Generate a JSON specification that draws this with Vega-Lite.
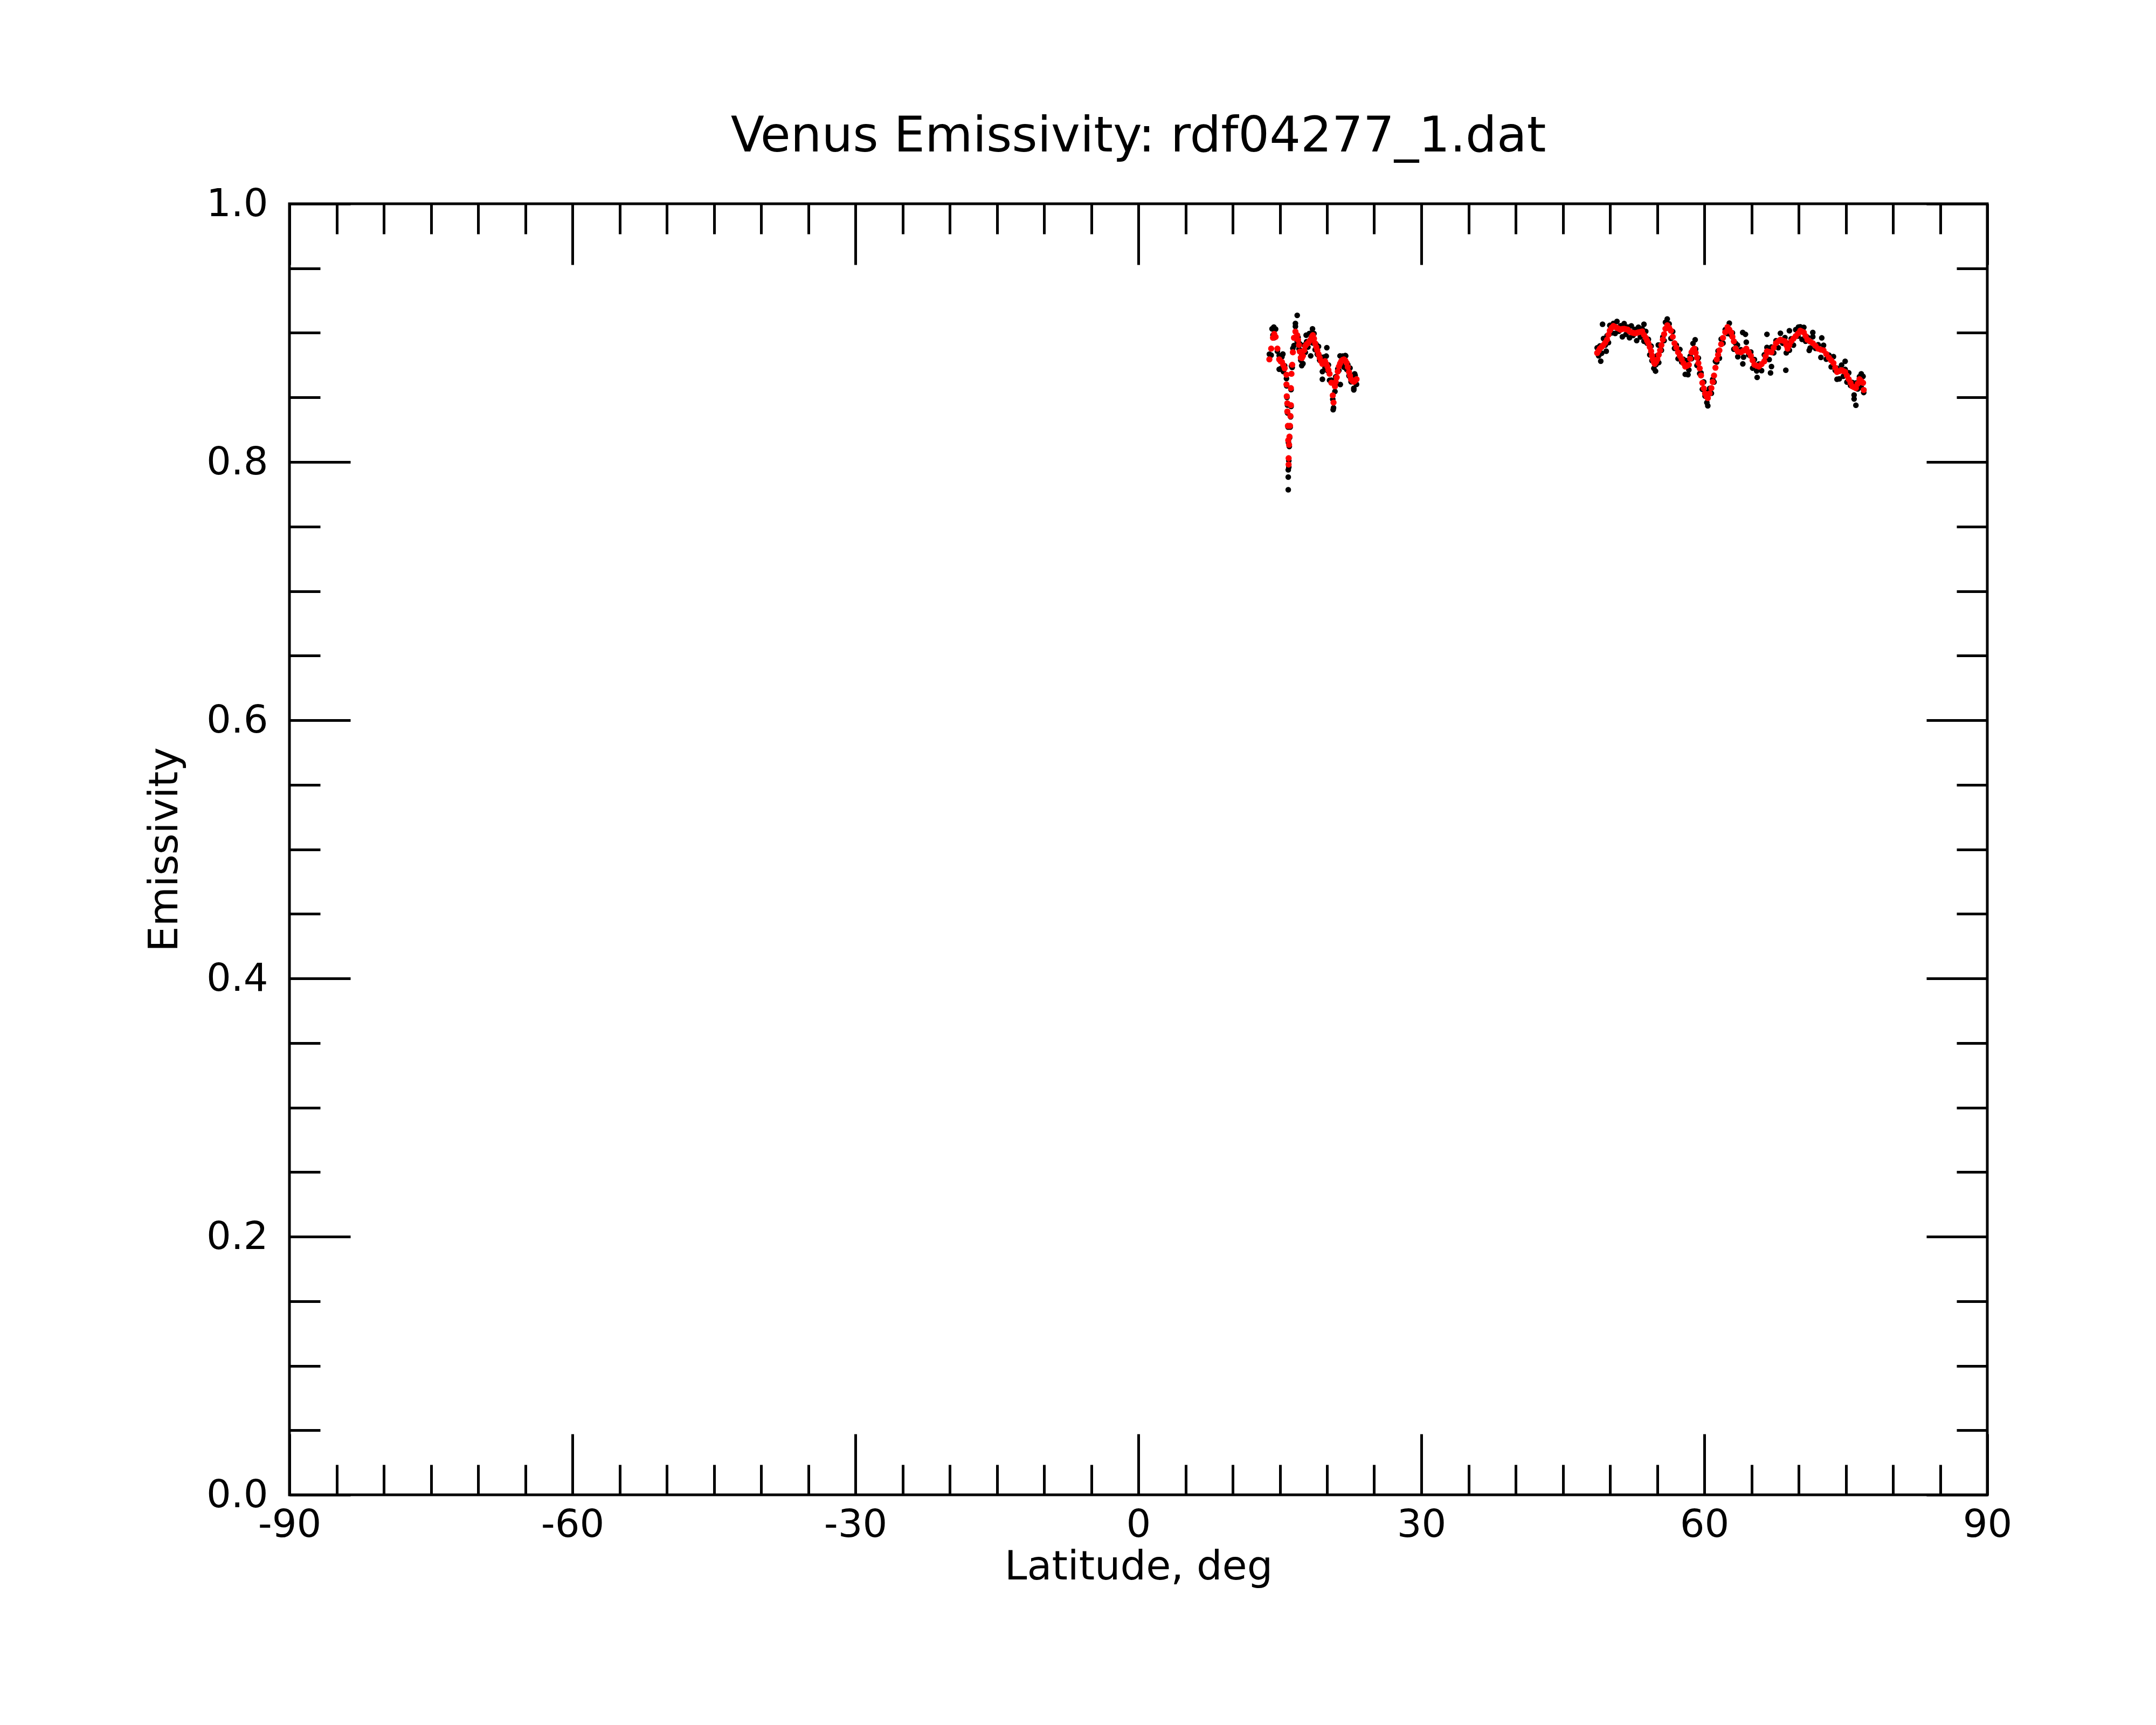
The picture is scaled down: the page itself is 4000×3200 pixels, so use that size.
{
  "$schema": "https://vega.github.io/schema/vega-lite/v6.json",
  "width": 3150,
  "height": 2395,
  "autosize": {"type": "none"},
  "padding": {"left": 537, "top": 378, "right": 313, "bottom": 427},
  "background": "white",
  "title": {
    "text": "Venus Emissivity: rdf04277_1.dat",
    "font": "DejaVu Sans",
    "fontSize": 91,
    "fontWeight": "normal",
    "color": "black",
    "anchor": "middle",
    "frame": "group",
    "baseline": "alphabetic",
    "offset": -30
  },
  "config": {
    "view": {"stroke": "black", "strokeWidth": 5},
    "axis": {
      "grid": false,
      "domain": false,
      "tickColor": "black",
      "tickWidth": 5,
      "labelFont": "DejaVu Sans",
      "labelFontSize": 72,
      "labelColor": "black",
      "labelFlush": false,
      "labelOverlap": false,
      "titleFont": "DejaVu Sans",
      "titleFontSize": 75,
      "titleFontWeight": "normal",
      "titleColor": "black"
    }
  },
  "datasets": {
    "raw": [
      {"lat":13.89,"emis":0.8835},{"lat":14.08,"emis":0.8828},{"lat":14.27,"emis":0.8982},{"lat":14.40,"emis":0.8962},
      {"lat":14.55,"emis":0.9029},{"lat":14.74,"emis":0.8858},{"lat":14.93,"emis":0.8825},{"lat":15.08,"emis":0.8720},
      {"lat":15.22,"emis":0.8814},{"lat":15.37,"emis":0.8700},{"lat":15.51,"emis":0.8745},{"lat":15.70,"emis":0.8646},
      {"lat":15.72,"emis":0.8590},{"lat":15.75,"emis":0.8500},{"lat":15.81,"emis":0.8440},{"lat":15.81,"emis":0.8380},
      {"lat":15.87,"emis":0.8270},{"lat":15.91,"emis":0.8150},{"lat":15.95,"emis":0.8010},{"lat":15.95,"emis":0.7960},
      {"lat":16.00,"emis":0.8120},{"lat":16.04,"emis":0.8190},{"lat":16.10,"emis":0.8270},{"lat":16.14,"emis":0.8350},
      {"lat":16.19,"emis":0.8430},{"lat":16.19,"emis":0.8560},{"lat":16.23,"emis":0.8743},{"lat":16.31,"emis":0.8733},
      {"lat":16.38,"emis":0.8880},{"lat":16.50,"emis":0.8902},{"lat":16.65,"emis":0.9050},{"lat":16.84,"emis":0.8932},
      {"lat":16.93,"emis":0.8965},{"lat":17.03,"emis":0.8876},{"lat":17.12,"emis":0.8915},{"lat":17.22,"emis":0.8788},
      {"lat":17.33,"emis":0.8835},{"lat":17.45,"emis":0.8762},{"lat":17.58,"emis":0.8905},{"lat":17.70,"emis":0.8849},
      {"lat":17.84,"emis":0.8932},{"lat":17.98,"emis":0.8890},{"lat":18.12,"emis":0.8995},{"lat":18.27,"emis":0.8928},
      {"lat":18.38,"emis":0.9000},{"lat":18.50,"emis":0.8922},{"lat":18.62,"emis":0.8995},{"lat":18.74,"emis":0.8870},
      {"lat":18.86,"emis":0.8910},{"lat":18.97,"emis":0.8834},{"lat":19.10,"emis":0.8895},{"lat":19.22,"emis":0.8788},
      {"lat":19.36,"emis":0.8812},{"lat":19.51,"emis":0.8700},{"lat":19.65,"emis":0.8812},{"lat":19.79,"emis":0.8731},
      {"lat":19.92,"emis":0.8820},{"lat":20.04,"emis":0.8709},{"lat":20.15,"emis":0.8752},{"lat":20.27,"emis":0.8633},
      {"lat":20.46,"emis":0.8634},{"lat":20.61,"emis":0.8486},{"lat":20.69,"emis":0.8420},{"lat":20.84,"emis":0.8546},
      {"lat":20.92,"emis":0.8660},{"lat":21.03,"emis":0.8605},{"lat":21.14,"emis":0.8720},{"lat":21.26,"emis":0.8709},
      {"lat":21.38,"emis":0.8822},{"lat":21.51,"emis":0.8761},{"lat":21.65,"emis":0.8820},{"lat":21.79,"emis":0.8735},
      {"lat":21.94,"emis":0.8825},{"lat":22.08,"emis":0.8717},{"lat":22.20,"emis":0.8755},{"lat":22.33,"emis":0.8667},
      {"lat":22.44,"emis":0.8728},{"lat":22.55,"emis":0.8621},{"lat":22.70,"emis":0.8658},{"lat":22.84,"emis":0.8571},
      {"lat":22.98,"emis":0.8670},{"lat":23.13,"emis":0.8601},
      {"lat":14.36,"emis":0.9045},{"lat":16.84,"emis":0.9136},{"lat":16.65,"emis":0.9073},{"lat":17.32,"emis":0.8746},
      {"lat":17.79,"emis":0.8982},{"lat":18.46,"emis":0.9031},{"lat":18.27,"emis":0.8822},{"lat":19.51,"emis":0.8641},
      {"lat":19.98,"emis":0.8885},{"lat":20.65,"emis":0.8405},{"lat":21.41,"emis":0.8600},{"lat":21.98,"emis":0.8822},
      {"lat":22.84,"emis":0.8558},{"lat":22.93,"emis":0.8683},{"lat":15.89,"emis":0.7939},{"lat":15.89,"emis":0.7883},
      {"lat":15.89,"emis":0.7785},{"lat":15.13,"emis":0.8725},{"lat":14.17,"emis":0.9031},{"lat":15.32,"emis":0.8836},
      {"lat":14.93,"emis":0.8718},
      {"lat":48.64,"emis":0.8884},{"lat":48.80,"emis":0.8822},{"lat":48.93,"emis":0.8899},{"lat":49.12,"emis":0.8842},
      {"lat":49.31,"emis":0.8956},{"lat":49.50,"emis":0.8905},{"lat":49.69,"emis":0.8978},{"lat":49.84,"emis":0.8925},
      {"lat":49.98,"emis":0.9058},{"lat":50.17,"emis":0.9000},{"lat":50.36,"emis":0.9073},{"lat":50.55,"emis":0.8996},
      {"lat":50.74,"emis":0.9089},{"lat":50.93,"emis":0.9012},{"lat":51.12,"emis":0.9055},{"lat":51.31,"emis":0.8970},
      {"lat":51.50,"emis":0.9072},{"lat":51.69,"emis":0.8988},{"lat":51.88,"emis":0.9045},{"lat":52.07,"emis":0.8962},
      {"lat":52.26,"emis":0.9054},{"lat":52.45,"emis":0.8980},{"lat":52.64,"emis":0.9027},{"lat":52.83,"emis":0.8940},
      {"lat":53.02,"emis":0.9044},{"lat":53.22,"emis":0.8968},{"lat":53.41,"emis":0.9031},{"lat":53.60,"emis":0.8935},
      {"lat":53.79,"emis":0.9012},{"lat":53.93,"emis":0.8920},{"lat":54.07,"emis":0.8950},{"lat":54.22,"emis":0.8830},
      {"lat":54.36,"emis":0.8898},{"lat":54.45,"emis":0.8785},{"lat":54.55,"emis":0.8815},{"lat":54.65,"emis":0.8725},
      {"lat":54.74,"emis":0.8810},{"lat":54.88,"emis":0.8755},{"lat":55.02,"emis":0.8825},{"lat":55.17,"emis":0.8770},
      {"lat":55.31,"emis":0.8905},{"lat":55.45,"emis":0.8865},{"lat":55.60,"emis":0.8968},{"lat":55.74,"emis":0.8940},
      {"lat":55.88,"emis":0.9082},{"lat":56.08,"emis":0.9039},{"lat":56.27,"emis":0.9070},{"lat":56.46,"emis":0.8957},
      {"lat":56.65,"emis":0.9010},{"lat":56.84,"emis":0.8880},{"lat":57.03,"emis":0.8905},{"lat":57.22,"emis":0.8800},
      {"lat":57.41,"emis":0.8872},{"lat":57.60,"emis":0.8774},{"lat":57.79,"emis":0.8795},{"lat":57.98,"emis":0.8679},
      {"lat":58.17,"emis":0.8785},{"lat":58.36,"emis":0.8713},{"lat":58.50,"emis":0.8820},{"lat":58.65,"emis":0.8800},
      {"lat":58.80,"emis":0.8918},{"lat":58.94,"emis":0.8858},{"lat":59.08,"emis":0.8875},{"lat":59.22,"emis":0.8748},
      {"lat":59.37,"emis":0.8805},{"lat":59.51,"emis":0.8685},{"lat":59.65,"emis":0.8690},{"lat":59.79,"emis":0.8563},
      {"lat":59.94,"emis":0.8620},{"lat":60.08,"emis":0.8510},{"lat":60.22,"emis":0.8540},{"lat":60.37,"emis":0.8435},
      {"lat":60.56,"emis":0.8570},{"lat":60.75,"emis":0.8532},{"lat":60.89,"emis":0.8640},{"lat":61.03,"emis":0.8619},
      {"lat":61.18,"emis":0.8780},{"lat":61.32,"emis":0.8774},{"lat":61.46,"emis":0.8860},{"lat":61.60,"emis":0.8804},
      {"lat":61.79,"emis":0.8952},{"lat":61.98,"emis":0.8921},{"lat":62.22,"emis":0.9025},{"lat":62.46,"emis":0.8995},
      {"lat":62.65,"emis":0.9075},{"lat":62.84,"emis":0.8983},{"lat":62.98,"emis":0.9000},{"lat":63.13,"emis":0.8874},
      {"lat":63.31,"emis":0.8920},{"lat":63.55,"emis":0.8815},{"lat":63.88,"emis":0.8870},{"lat":64.16,"emis":0.8812},
      {"lat":64.45,"emis":0.8928},{"lat":64.70,"emis":0.8830},{"lat":64.93,"emis":0.8852},{"lat":65.12,"emis":0.8727},
      {"lat":65.31,"emis":0.8793},{"lat":65.55,"emis":0.8705},{"lat":65.79,"emis":0.8759},{"lat":66.07,"emis":0.8708},
      {"lat":66.36,"emis":0.8830},{"lat":66.50,"emis":0.8800},{"lat":66.64,"emis":0.8887},{"lat":66.88,"emis":0.8793},
      {"lat":67.12,"emis":0.8890},{"lat":67.36,"emis":0.8845},{"lat":67.60,"emis":0.8940},{"lat":67.84,"emis":0.8885},
      {"lat":68.07,"emis":0.8997},{"lat":68.31,"emis":0.8920},{"lat":68.55,"emis":0.8964},{"lat":68.69,"emis":0.8845},
      {"lat":68.83,"emis":0.8918},{"lat":69.02,"emis":0.8865},{"lat":69.21,"emis":0.8954},{"lat":69.45,"emis":0.8905},
      {"lat":69.69,"emis":0.9025},{"lat":69.93,"emis":0.8975},{"lat":70.17,"emis":0.9047},{"lat":70.36,"emis":0.8950},
      {"lat":70.55,"emis":0.9043},{"lat":70.74,"emis":0.8935},{"lat":70.93,"emis":0.8967},{"lat":71.22,"emis":0.8883},
      {"lat":71.50,"emis":0.8970},{"lat":71.79,"emis":0.8880},{"lat":72.07,"emis":0.8908},{"lat":72.36,"emis":0.8810},
      {"lat":72.64,"emis":0.8904},{"lat":72.93,"emis":0.8796},{"lat":73.21,"emis":0.8828},{"lat":73.45,"emis":0.8737},
      {"lat":73.69,"emis":0.8816},{"lat":73.88,"emis":0.8710},{"lat":74.07,"emis":0.8727},{"lat":74.31,"emis":0.8644},
      {"lat":74.55,"emis":0.8751},{"lat":74.74,"emis":0.8664},{"lat":74.93,"emis":0.8717},{"lat":75.12,"emis":0.8619},
      {"lat":75.31,"emis":0.8691},{"lat":75.50,"emis":0.8593},{"lat":75.69,"emis":0.8616},{"lat":75.88,"emis":0.8519},
      {"lat":76.07,"emis":0.8612},{"lat":76.26,"emis":0.8566},{"lat":76.45,"emis":0.8661},{"lat":76.64,"emis":0.8577},
      {"lat":76.83,"emis":0.8663},{"lat":76.90,"emis":0.8538},
      {"lat":49.21,"emis":0.9067},{"lat":49.02,"emis":0.8781},{"lat":49.60,"emis":0.8858},{"lat":53.60,"emis":0.9067},
      {"lat":55.12,"emis":0.8906},{"lat":54.83,"emis":0.8704},{"lat":56.07,"emis":0.9108},{"lat":58.27,"emis":0.8676},
      {"lat":59.03,"emis":0.8947},{"lat":60.27,"emis":0.8460},{"lat":63.51,"emis":0.8906},{"lat":64.08,"emis":0.8760},
      {"lat":64.36,"emis":0.8989},{"lat":64.07,"emis":0.9003},{"lat":65.60,"emis":0.8655},{"lat":66.64,"emis":0.8989},
      {"lat":67.12,"emis":0.8739},{"lat":67.02,"emis":0.8690},{"lat":68.64,"emis":0.8711},{"lat":69.02,"emis":0.9017},
      {"lat":69.98,"emis":0.9045},{"lat":71.50,"emis":0.9003},{"lat":72.45,"emis":0.8961},{"lat":71.12,"emis":0.8864},
      {"lat":74.07,"emis":0.8641},{"lat":74.93,"emis":0.8780},{"lat":75.88,"emis":0.8488},{"lat":76.07,"emis":0.8439},
      {"lat":76.64,"emis":0.8683}
    ],
    "smooth": [
      {"lat":13.89,"emis":0.8795},{"lat":14.08,"emis":0.8878},{"lat":14.27,"emis":0.8962},{"lat":14.40,"emis":0.8992},
      {"lat":14.55,"emis":0.8969},{"lat":14.74,"emis":0.8878},{"lat":14.93,"emis":0.8795},{"lat":15.08,"emis":0.8780},
      {"lat":15.22,"emis":0.8774},{"lat":15.37,"emis":0.8750},{"lat":15.51,"emis":0.8725},{"lat":15.70,"emis":0.8676},
      {"lat":15.70,"emis":0.8600},{"lat":15.73,"emis":0.8509},{"lat":15.79,"emis":0.8454},{"lat":15.79,"emis":0.8391},
      {"lat":15.85,"emis":0.8280},{"lat":15.89,"emis":0.8168},{"lat":15.93,"emis":0.8029},{"lat":15.93,"emis":0.7980},
      {"lat":15.98,"emis":0.8133},{"lat":16.02,"emis":0.8196},{"lat":16.08,"emis":0.8280},{"lat":16.12,"emis":0.8356},
      {"lat":16.17,"emis":0.8440},{"lat":16.17,"emis":0.8572},{"lat":16.23,"emis":0.8683},{"lat":16.31,"emis":0.8753},
      {"lat":16.38,"emis":0.8850},{"lat":16.50,"emis":0.8962},{"lat":16.65,"emis":0.9010},{"lat":16.84,"emis":0.8982},
      {"lat":16.93,"emis":0.8945},{"lat":17.03,"emis":0.8906},{"lat":17.12,"emis":0.8855},{"lat":17.22,"emis":0.8808},
      {"lat":17.33,"emis":0.8805},{"lat":17.45,"emis":0.8822},{"lat":17.58,"emis":0.8865},{"lat":17.70,"emis":0.8899},
      {"lat":17.84,"emis":0.8912},{"lat":17.98,"emis":0.8920},{"lat":18.12,"emis":0.8935},{"lat":18.27,"emis":0.8948},
      {"lat":18.38,"emis":0.8970},{"lat":18.50,"emis":0.8982},{"lat":18.62,"emis":0.8955},{"lat":18.74,"emis":0.8920},
      {"lat":18.86,"emis":0.8890},{"lat":18.97,"emis":0.8864},{"lat":19.10,"emis":0.8835},{"lat":19.22,"emis":0.8808},
      {"lat":19.36,"emis":0.8782},{"lat":19.51,"emis":0.8760},{"lat":19.65,"emis":0.8772},{"lat":19.79,"emis":0.8781},
      {"lat":19.92,"emis":0.8760},{"lat":20.04,"emis":0.8739},{"lat":20.15,"emis":0.8712},{"lat":20.27,"emis":0.8683},
      {"lat":20.46,"emis":0.8614},{"lat":20.61,"emis":0.8516},{"lat":20.69,"emis":0.8460},{"lat":20.84,"emis":0.8586},
      {"lat":20.92,"emis":0.8620},{"lat":21.03,"emis":0.8655},{"lat":21.14,"emis":0.8700},{"lat":21.26,"emis":0.8739},
      {"lat":21.38,"emis":0.8762},{"lat":21.51,"emis":0.8781},{"lat":21.65,"emis":0.8790},{"lat":21.79,"emis":0.8795},
      {"lat":21.94,"emis":0.8785},{"lat":22.08,"emis":0.8767},{"lat":22.20,"emis":0.8735},{"lat":22.33,"emis":0.8697},
      {"lat":22.44,"emis":0.8668},{"lat":22.55,"emis":0.8641},{"lat":22.70,"emis":0.8628},{"lat":22.84,"emis":0.8621},
      {"lat":22.98,"emis":0.8630},{"lat":23.13,"emis":0.8641},
      {"lat":48.64,"emis":0.8844},{"lat":48.80,"emis":0.8862},{"lat":48.93,"emis":0.8879},{"lat":49.12,"emis":0.8892},
      {"lat":49.31,"emis":0.8906},{"lat":49.50,"emis":0.8925},{"lat":49.69,"emis":0.8948},{"lat":49.84,"emis":0.8985},
      {"lat":49.98,"emis":0.9018},{"lat":50.17,"emis":0.9040},{"lat":50.36,"emis":0.9053},{"lat":50.55,"emis":0.9046},
      {"lat":50.74,"emis":0.9039},{"lat":50.93,"emis":0.9032},{"lat":51.12,"emis":0.9025},{"lat":51.31,"emis":0.9030},
      {"lat":51.50,"emis":0.9032},{"lat":51.69,"emis":0.9028},{"lat":51.88,"emis":0.9025},{"lat":52.07,"emis":0.9012},
      {"lat":52.26,"emis":0.9004},{"lat":52.45,"emis":0.9000},{"lat":52.64,"emis":0.8997},{"lat":52.83,"emis":0.9000},
      {"lat":53.02,"emis":0.9004},{"lat":53.22,"emis":0.9008},{"lat":53.41,"emis":0.9011},{"lat":53.60,"emis":0.8985},
      {"lat":53.79,"emis":0.8962},{"lat":53.93,"emis":0.8940},{"lat":54.07,"emis":0.8920},{"lat":54.22,"emis":0.8890},
      {"lat":54.36,"emis":0.8858},{"lat":54.45,"emis":0.8825},{"lat":54.55,"emis":0.8795},{"lat":54.65,"emis":0.8775},
      {"lat":54.74,"emis":0.8760},{"lat":54.88,"emis":0.8775},{"lat":55.02,"emis":0.8795},{"lat":55.17,"emis":0.8830},
      {"lat":55.31,"emis":0.8865},{"lat":55.45,"emis":0.8905},{"lat":55.60,"emis":0.8948},{"lat":55.74,"emis":0.8990},
      {"lat":55.88,"emis":0.9032},{"lat":56.08,"emis":0.9059},{"lat":56.27,"emis":0.9040},{"lat":56.46,"emis":0.9017},
      {"lat":56.65,"emis":0.8970},{"lat":56.84,"emis":0.8920},{"lat":57.03,"emis":0.8885},{"lat":57.22,"emis":0.8850},
      {"lat":57.41,"emis":0.8822},{"lat":57.60,"emis":0.8794},{"lat":57.79,"emis":0.8765},{"lat":57.98,"emis":0.8739},
      {"lat":58.17,"emis":0.8745},{"lat":58.36,"emis":0.8753},{"lat":58.50,"emis":0.8800},{"lat":58.65,"emis":0.8850},
      {"lat":58.80,"emis":0.8868},{"lat":58.94,"emis":0.8878},{"lat":59.08,"emis":0.8845},{"lat":59.22,"emis":0.8808},
      {"lat":59.37,"emis":0.8765},{"lat":59.51,"emis":0.8725},{"lat":59.65,"emis":0.8670},{"lat":59.79,"emis":0.8613},
      {"lat":59.94,"emis":0.8570},{"lat":60.08,"emis":0.8530},{"lat":60.22,"emis":0.8510},{"lat":60.37,"emis":0.8495},
      {"lat":60.56,"emis":0.8530},{"lat":60.75,"emis":0.8572},{"lat":60.89,"emis":0.8620},{"lat":61.03,"emis":0.8669},
      {"lat":61.18,"emis":0.8730},{"lat":61.32,"emis":0.8794},{"lat":61.46,"emis":0.8830},{"lat":61.60,"emis":0.8864},
      {"lat":61.79,"emis":0.8912},{"lat":61.98,"emis":0.8961},{"lat":62.22,"emis":0.9005},{"lat":62.46,"emis":0.9045},
      {"lat":62.65,"emis":0.9025},{"lat":62.84,"emis":0.9003},{"lat":62.98,"emis":0.8970},{"lat":63.13,"emis":0.8934},
      {"lat":63.31,"emis":0.8880},{"lat":63.55,"emis":0.8855},{"lat":63.88,"emis":0.8850},{"lat":64.16,"emis":0.8862},
      {"lat":64.45,"emis":0.8878},{"lat":64.70,"emis":0.8850},{"lat":64.93,"emis":0.8822},{"lat":65.12,"emis":0.8787},
      {"lat":65.31,"emis":0.8753},{"lat":65.55,"emis":0.8745},{"lat":65.79,"emis":0.8739},{"lat":66.07,"emis":0.8758},
      {"lat":66.36,"emis":0.8780},{"lat":66.50,"emis":0.8820},{"lat":66.64,"emis":0.8857},{"lat":66.88,"emis":0.8853},
      {"lat":67.12,"emis":0.8850},{"lat":67.36,"emis":0.8885},{"lat":67.60,"emis":0.8920},{"lat":67.84,"emis":0.8935},
      {"lat":68.07,"emis":0.8947},{"lat":68.31,"emis":0.8940},{"lat":68.55,"emis":0.8934},{"lat":68.69,"emis":0.8905},
      {"lat":68.83,"emis":0.8878},{"lat":69.02,"emis":0.8905},{"lat":69.21,"emis":0.8934},{"lat":69.45,"emis":0.8955},
      {"lat":69.69,"emis":0.8975},{"lat":69.93,"emis":0.8995},{"lat":70.17,"emis":0.9017},{"lat":70.36,"emis":0.9010},
      {"lat":70.55,"emis":0.9003},{"lat":70.74,"emis":0.8975},{"lat":70.93,"emis":0.8947},{"lat":71.22,"emis":0.8933},
      {"lat":71.50,"emis":0.8920},{"lat":71.79,"emis":0.8900},{"lat":72.07,"emis":0.8878},{"lat":72.36,"emis":0.8870},
      {"lat":72.64,"emis":0.8864},{"lat":72.93,"emis":0.8836},{"lat":73.21,"emis":0.8808},{"lat":73.45,"emis":0.8787},
      {"lat":73.69,"emis":0.8766},{"lat":73.88,"emis":0.8730},{"lat":74.07,"emis":0.8697},{"lat":74.31,"emis":0.8704},
      {"lat":74.55,"emis":0.8711},{"lat":74.74,"emis":0.8704},{"lat":74.93,"emis":0.8697},{"lat":75.12,"emis":0.8669},
      {"lat":75.31,"emis":0.8641},{"lat":75.50,"emis":0.8613},{"lat":75.69,"emis":0.8586},{"lat":75.88,"emis":0.8579},
      {"lat":76.07,"emis":0.8572},{"lat":76.26,"emis":0.8606},{"lat":76.45,"emis":0.8641},{"lat":76.64,"emis":0.8627},
      {"lat":76.83,"emis":0.8613},{"lat":76.90,"emis":0.8558}
    ]
  },
  "resolve": {"axis": {"x": "independent", "y": "independent"}},
  "layer": [
    {
      "data": {"name": "raw"},
      "mark": {"type": "point", "filled": true, "size": 110, "opacity": 1, "color": "black"},
      "encoding": {
        "x": {
          "field": "lat", "type": "quantitative",
          "scale": {"domain": [-90, 90], "nice": false, "zero": false},
          "axis": {
            "orient": "bottom", "ticks": false,
            "values": [-90, -60, -30, 0, 30, 60, 90],
            "labelExpr": "datum.value + ''",
            "labelPadding": 20,
            "title": "Latitude, deg", "titlePadding": 6
          }
        },
        "y": {
          "field": "emis", "type": "quantitative",
          "scale": {"domain": [0, 1], "nice": false, "zero": false},
          "axis": {
            "orient": "left", "ticks": false,
            "values": [0, 0.2, 0.4, 0.6, 0.8, 1],
            "format": ".1f",
            "labelPadding": 40,
            "title": "Emissivity", "titlePadding": 38
          }
        }
      }
    },
    {
      "data": {"name": "smooth"},
      "mark": {"type": "point", "filled": true, "size": 130, "opacity": 1, "color": "#ff0000"},
      "encoding": {
        "x": {
          "field": "lat", "type": "quantitative",
          "axis": {
            "orient": "bottom", "labels": false, "title": null, "tickSize": -56,
            "values": [-90,-85,-80,-75,-70,-65,-60,-55,-50,-45,-40,-35,-30,-25,-20,-15,-10,-5,0,5,10,15,20,25,30,35,40,45,50,55,60,65,70,75,80,85,90]
          }
        },
        "y": {
          "field": "emis", "type": "quantitative",
          "axis": {
            "orient": "left", "labels": false, "title": null, "tickSize": -57,
            "values": [0,0.05,0.1,0.15,0.2,0.25,0.3,0.35,0.4,0.45,0.5,0.55,0.6,0.65,0.7,0.75,0.8,0.85,0.9,0.95,1]
          }
        }
      }
    },
    {
      "data": {"values": []},
      "mark": {"type": "point"},
      "encoding": {
        "x": {
          "field": "lat", "type": "quantitative",
          "axis": {"orient": "bottom", "labels": false, "title": null, "tickSize": -113, "values": [-90, -60, -30, 0, 30, 60, 90]}
        },
        "y": {
          "field": "emis", "type": "quantitative",
          "axis": {"orient": "left", "labels": false, "title": null, "tickSize": -113, "values": [0, 0.2, 0.4, 0.6, 0.8, 1]}
        }
      }
    },
    {
      "data": {"values": []},
      "mark": {"type": "point"},
      "encoding": {
        "x": {
          "field": "lat", "type": "quantitative",
          "axis": {
            "orient": "top", "labels": false, "title": null, "tickSize": -56,
            "values": [-90,-85,-80,-75,-70,-65,-60,-55,-50,-45,-40,-35,-30,-25,-20,-15,-10,-5,0,5,10,15,20,25,30,35,40,45,50,55,60,65,70,75,80,85,90]
          }
        },
        "y": {
          "field": "emis", "type": "quantitative",
          "axis": {
            "orient": "right", "labels": false, "title": null, "tickSize": -57,
            "values": [0,0.05,0.1,0.15,0.2,0.25,0.3,0.35,0.4,0.45,0.5,0.55,0.6,0.65,0.7,0.75,0.8,0.85,0.9,0.95,1]
          }
        }
      }
    },
    {
      "data": {"values": []},
      "mark": {"type": "point"},
      "encoding": {
        "x": {
          "field": "lat", "type": "quantitative",
          "axis": {"orient": "top", "labels": false, "title": null, "tickSize": -113, "values": [-90, -60, -30, 0, 30, 60, 90]}
        },
        "y": {
          "field": "emis", "type": "quantitative",
          "axis": {"orient": "right", "labels": false, "title": null, "tickSize": -113, "values": [0, 0.2, 0.4, 0.6, 0.8, 1]}
        }
      }
    }
  ]
}
